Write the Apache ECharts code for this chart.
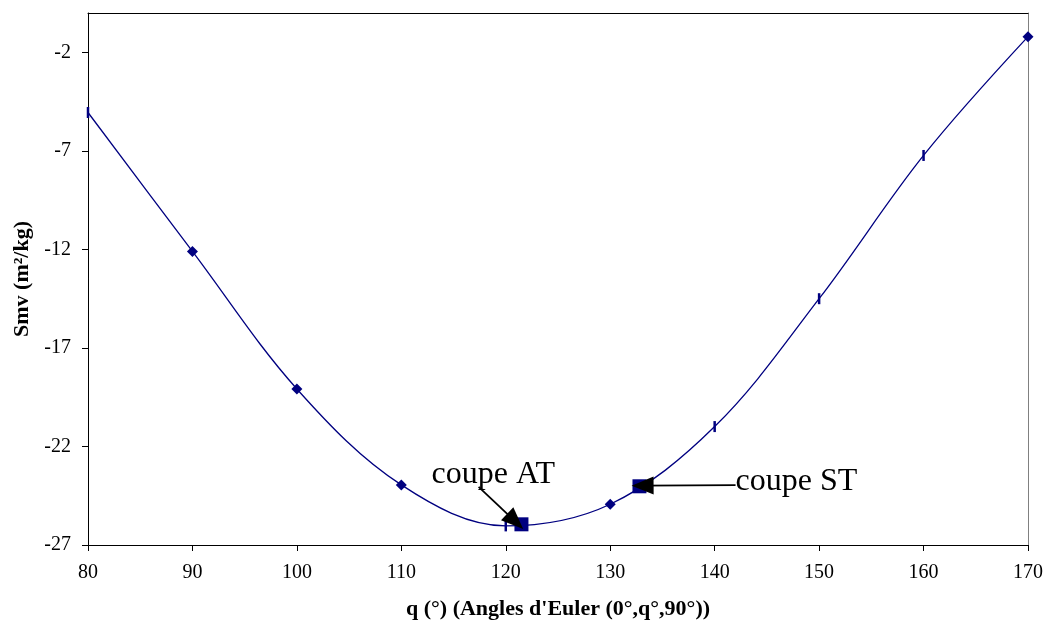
<!DOCTYPE html>
<html>
<head>
<meta charset="utf-8">
<script src="https://cdn.jsdelivr.net/npm/echarts@6/dist/echarts.min.js"></script>
<style>html,body{margin:0;padding:0;background:#fff;}#chart{width:1047px;height:625px;}</style>
</head>
<body>
<div id="chart"></div>
<script>
// Data
const angles = [80, 90, 100, 110, 120, 130, 140, 150, 160, 170];
const smv = [-5.05, -12.1, -19.08, -23.95, -26.03, -24.93, -20.99, -14.5, -7.23, -1.2];
const markerKind = ['bar', 'diamond', 'diamond', 'diamond', 'bar', 'diamond', 'bar', 'bar', 'bar', 'diamond'];
const cutNames = ['coupe AT', 'coupe ST'];
const cutAngles = [121.5, 132.8];
const cutSmv = [-25.95, -24.02];
const labelPos = [[118.8, -23.45], [142.0, -23.8]];
const arrowStart = [[117.4, -24.05], [142.0, -23.96]];
const arrowEnd = [[120.9, -25.8], [133.1, -23.99]];
const yTicks = [-27, -22, -17, -12, -7, -2];
const xTicks = [80, 90, 100, 110, 120, 130, 140, 150, 160, 170];

const navy = '#000080';
const font = '"Liberation Serif", "Times New Roman", serif';

const lineData = angles.map((a, i) => ({
  value: [a, smv[i]],
  symbol: markerKind[i] === 'diamond' ? 'diamond' : 'rect',
  symbolSize: markerKind[i] === 'diamond' ? [11, 11] : [2.5, 11]
}));

const chart = echarts.init(document.getElementById('chart'), null, {renderer: 'canvas'});
chart.setOption({
  animation: false,
  backgroundColor: '#fff',
  grid: {left: 88, right: 19, top: 13, bottom: 80, containLabel: false, outerBoundsMode: 'none'},
  xAxis: [{
    type: 'value', min: 80, max: 170, interval: 10,
    axisLine: {show: true, onZero: false, lineStyle: {color: '#000', width: 1}},
    axisTick: {show: true, length: 6, lineStyle: {color: '#000'}},
    axisLabel: {color: '#000', fontFamily: font, fontSize: 20, margin: 18,
      customValues: xTicks},
    splitLine: {show: false},
    name: "q (°) (Angles d'Euler (0°,q°,90°))",
    nameLocation: 'middle', nameGap: 53,
    nameTextStyle: {color: '#000', fontFamily: font, fontSize: 22, fontWeight: 'bold'}
  }, {
    type: 'value', min: 80, max: 170, position: 'top',
    axisLine: {show: true, onZero: false, lineStyle: {color: '#000', width: 1}},
    axisTick: {show: false}, axisLabel: {show: false}, splitLine: {show: false}
  }],
  yAxis: [{
    type: 'value', min: -27, max: 0,
    axisLine: {show: true, onZero: false, lineStyle: {color: '#000', width: 1}},
    axisTick: {show: true, length: 6, lineStyle: {color: '#000'}, customValues: yTicks},
    axisLabel: {color: '#000', fontFamily: font, fontSize: 20, margin: 17, customValues: yTicks},
    splitLine: {show: false},
    name: 'Smv (m²/kg)', nameLocation: 'middle', nameGap: 55, nameRotate: 90,
    nameTextStyle: {color: '#000', fontFamily: font, fontSize: 22, fontWeight: 'bold'}
  }, {
    type: 'value', min: -27, max: 0, position: 'right',
    axisLine: {show: true, onZero: false, lineStyle: {color: '#808080', width: 1}},
    axisTick: {show: false}, axisLabel: {show: false}, splitLine: {show: false}
  }],
  series: [{
    type: 'line',
    data: lineData,
    smooth: 0.35,
    lineStyle: {color: navy, width: 1.3},
    itemStyle: {color: navy},
    showAllSymbol: true,
    z: 3
  }, {
    type: 'scatter',
    data: cutAngles.map((a, i) => [a, cutSmv[i]]),
    symbol: 'rect', symbolSize: 14,
    itemStyle: {color: navy, opacity: 1},
    z: 4,
    markPoint: {
      symbol: 'circle', symbolSize: 0,
      label: {show: true, position: 'inside', color: '#000', fontFamily: font, fontSize: 32,
        formatter: p => p.name},
      data: [
        {name: cutNames[0], coord: labelPos[0], label: {align: 'center', verticalAlign: 'middle'}},
        {name: cutNames[1], coord: labelPos[1], label: {align: 'left', verticalAlign: 'middle'}}
      ]
    },
    markLine: {
      silent: true,
      symbol: ['none', 'triangle'],
      symbolSize: [18, 22],
      lineStyle: {color: '#000', width: 1.8, type: 'solid'},
      label: {show: false},
      data: arrowStart.map((s, i) => [{coord: s}, {coord: arrowEnd[i]}])
    }
  }]
});
</script>
</body>
</html>
